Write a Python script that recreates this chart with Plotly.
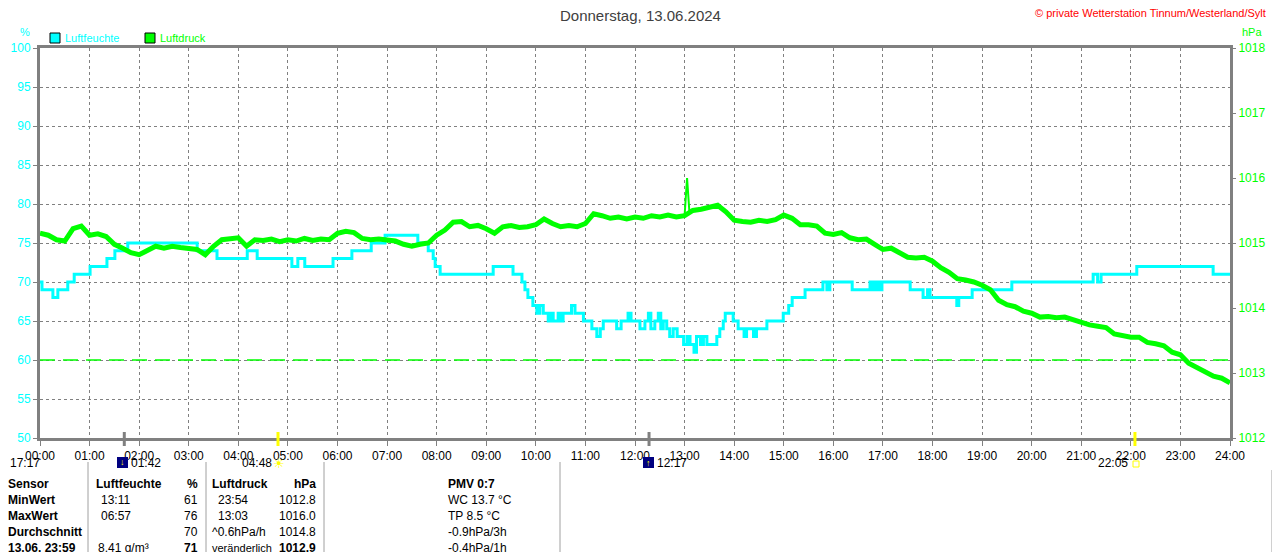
import plotly.graph_objects as go

# Luftfeuchte (%), stepwise readings: hour of day / value
hum_t = [0.00, 0.04, 0.26, 0.36, 0.56, 0.69, 1.01, 1.35, 1.51, 1.77,
         3.17, 3.57, 4.18, 4.38, 5.08, 5.20, 5.34, 5.91, 6.29, 6.68,
         6.96, 7.62, 7.83, 7.93, 7.97, 8.07, 9.14, 9.54, 9.72, 9.78,
         9.84, 9.94, 10.02, 10.08, 10.15, 10.25, 10.30, 10.35, 10.45, 10.50,
         10.55, 10.72, 10.79, 10.96, 11.13, 11.23, 11.30, 11.36, 11.63, 11.72,
         11.86, 11.92, 12.00, 12.10, 12.20, 12.27, 12.32, 12.40, 12.47, 12.52,
         12.57, 12.64, 12.70, 12.77, 12.85, 12.98, 13.05, 13.11, 13.19, 13.24,
         13.32, 13.38, 13.45, 13.65, 13.71, 13.78, 13.82, 13.98, 14.08, 14.20,
         14.25, 14.39, 14.45, 14.66, 14.99, 15.10, 15.17, 15.43, 15.79, 15.87,
         15.93, 16.38, 16.74, 16.80, 16.86, 16.92, 16.98, 17.55, 17.81, 17.90,
         17.95, 18.49, 18.53, 18.80, 19.60, 21.24, 21.33, 21.40, 21.48, 22.12,
         23.66, 24.00]
hum_v = [70, 69, 68, 69, 70, 71, 72, 73, 74, 75,
         74, 73, 74, 73, 72, 73, 72, 73, 74, 75,
         76, 75, 74, 73, 72, 71, 72, 71, 70, 69,
         68, 67, 66, 67, 66, 65, 66, 65, 66, 65,
         66, 67, 66, 65, 64, 63, 64, 65, 64, 65,
         66, 65, 65, 64, 65, 66, 64, 65, 66, 64,
         65, 64, 63, 64, 63, 62, 63, 62, 61, 63,
         62, 63, 62, 63, 64, 65, 66, 65, 64, 63,
         64, 63, 64, 65, 66, 67, 68, 69, 70, 69,
         70, 69, 70, 69, 70, 69, 70, 69, 68, 69,
         68, 67, 68, 69, 70, 71, 70, 71, 71, 72,
         71, 71]

# Luftdruck (hPa), every 10 minutes from 00:00 to 24:00
pres_v = [
    1015.15, 1015.12, 1015.05, 1015.03, 1015.22, 1015.26,
    1015.12, 1015.14, 1015.10, 1014.98, 1014.92, 1014.85,
    1014.82, 1014.88, 1014.95, 1014.92, 1014.95, 1014.93,
    1014.92, 1014.90, 1014.82, 1014.95, 1015.05, 1015.06,
    1015.08, 1014.95, 1015.05, 1015.04, 1015.06, 1015.02,
    1015.05, 1015.03, 1015.07, 1015.04, 1015.06, 1015.05,
    1015.15, 1015.18, 1015.16, 1015.07, 1015.05, 1015.06,
    1015.05, 1015.03, 1014.98, 1014.95, 1014.98, 1015.00,
    1015.12, 1015.20, 1015.32, 1015.33, 1015.25, 1015.27,
    1015.22, 1015.15, 1015.25, 1015.27, 1015.24, 1015.25,
    1015.28, 1015.37, 1015.30, 1015.25, 1015.27, 1015.25,
    1015.30, 1015.45, 1015.42, 1015.38, 1015.40, 1015.37,
    1015.40, 1015.38, 1015.42, 1015.40, 1015.43, 1015.40,
    1015.42, 1015.50, 1015.52, 1015.55, 1015.58, 1015.48,
    1015.35, 1015.33, 1015.32, 1015.35, 1015.33, 1015.36,
    1015.43, 1015.38, 1015.28, 1015.28, 1015.26, 1015.15,
    1015.13, 1015.16, 1015.08, 1015.05, 1015.06, 1014.98,
    1014.90, 1014.92, 1014.85, 1014.78, 1014.77, 1014.78,
    1014.72, 1014.62, 1014.55, 1014.45, 1014.43, 1014.40,
    1014.35, 1014.28, 1014.12, 1014.05, 1014.02, 1013.95,
    1013.92, 1013.86, 1013.87, 1013.85, 1013.86, 1013.82,
    1013.77, 1013.74, 1013.72, 1013.70, 1013.60, 1013.57,
    1013.55, 1013.55, 1013.47, 1013.45, 1013.42, 1013.32,
    1013.28, 1013.15, 1013.08, 1013.02, 1012.95, 1012.92,
    1012.85,
]
pres_t = [i / 6 for i in range(len(pres_v))]

# short peak at 13:03
spike_t = [13.0, 13.05, 13.1]
spike_v = [1015.42, 1016.0, 1015.45]

ref_pres = 1013.2  # dashed reference line

hours = list(range(25))
hour_labels = ['%02d:00' % h for h in hours]

# moon / sun events below the axis
event_t = [1.70, 4.80, 12.283, 22.083]
event_col = ['#808080', '#ffff00', '#808080', '#ffff00']

# table at the bottom
tbl_label = ['Sensor', 'MinWert', 'MaxWert', 'Durchschnitt', '13.06. 23:59']
tbl_hum_a = ['Luftfeuchte', '13:11', '06:57', '', '8.41 g/m³']
tbl_hum_b = ['%', '61', '76', '70', '71']
tbl_pres_a = ['Luftdruck', '23:54', '13:03', '^0.6hPa/h', 'veränderlich']
tbl_pres_b = ['hPa', '1012.8', '1016.0', '1014.8', '1012.9']
tbl_pmv = ['PMV 0:7', 'WC 13.7 °C', 'TP 8.5 °C', '-0.9hPa/3h', '-0.4hPa/1h']

CYAN = '#00ffff'
GREEN = '#00ff00'
GRAY = '#808080'
FONT = 'Liberation Sans'


def px(x):
    return (x - 40) / 1190


def py(y):
    return (438 - y) / 390


fig = go.Figure()

fig.add_trace(go.Scatter(
    x=hum_t, y=hum_v, name='Luftfeuchte', mode='lines',
    line=dict(color=CYAN, width=3, shape='hv'),
))
fig.add_trace(go.Scatter(
    x=pres_t, y=pres_v, name='Luftdruck', mode='lines', yaxis='y2',
    line=dict(color=GREEN, width=5),
))
fig.add_trace(go.Scatter(
    x=spike_t, y=spike_v, mode='lines', yaxis='y2', showlegend=False,
    line=dict(color=GREEN, width=2),
))

shapes = []
# reference pressure line
shapes.append(dict(type='line', xref='x', yref='y2', x0=0, x1=24, y0=ref_pres, y1=ref_pres,
                   line=dict(color=GREEN, width=1.5, dash='15px,8px')))
# event markers on the time axis
for t, c in zip(event_t, event_col):
    shapes.append(dict(type='line', xref='x', yref='paper', x0=t, x1=t, y0=py(432), y1=py(446),
                       line=dict(color=c, width=3)))
# legend boxes
shapes.append(dict(type='rect', xref='paper', yref='paper', x0=px(50), x1=px(60), y0=py(43), y1=py(33),
                   fillcolor=CYAN, line=dict(color='black', width=1)))
shapes.append(dict(type='rect', xref='paper', yref='paper', x0=px(145), x1=px(155), y0=py(43), y1=py(33),
                   fillcolor=GREEN, line=dict(color='black', width=1)))
# table separators
for sx in [88, 206, 324, 560]:
    shapes.append(dict(type='line', xref='paper', yref='paper', x0=px(sx), x1=px(sx), y0=py(462), y1=py(556),
                       line=dict(color='#a0a0a0', width=1)))
# moon icons
for mx in [117, 643]:
    shapes.append(dict(type='rect', xref='paper', yref='paper', x0=px(mx), x1=px(mx + 11), y0=py(468), y1=py(457),
                       fillcolor='#000080', line=dict(width=0)))
# setting sun at 17:17 (half disc)
shapes.append(dict(type='path', xref='paper', yref='paper',
                   path='M %f %f A 1 1 0 0 1 %f %f Z' % (px(40), py(466), px(50), py(466)),
                   fillcolor='#ffff00', line=dict(color='#ffff00', width=1)))
shapes.append(dict(type='rect', xref='paper', yref='paper', x0=px(1133), x1=px(1139), y0=py(467), y1=py(461),
                   line=dict(color='#ffff00', width=1)))
# cut-off neighbour chart at the right edge
shapes.append(dict(type='line', xref='paper', yref='paper', x0=px(1272), x1=px(1281), y0=py(48), y1=py(48),
                   line=dict(color=GRAY, width=3)))
for gy in [125, 200, 277, 352, 418]:
    shapes.append(dict(type='line', xref='paper', yref='paper', x0=px(1272), x1=px(1281), y0=py(gy), y1=py(gy),
                       line=dict(color=GRAY, width=1, dash='3px,3px')))
shapes.append(dict(type='rect', xref='paper', yref='paper', x0=px(1272), x1=px(1281), y0=py(417), y1=py(402),
                   fillcolor=GREEN, line=dict(width=0)))
shapes.append(dict(type='line', xref='paper', yref='paper', x0=px(1272), x1=px(1272), y0=py(470), y1=py(556),
                   line=dict(color='#a0a0a0', width=1)))
shapes.append(dict(type='line', xref='paper', yref='paper', x0=px(1272), x1=px(1281), y0=py(503), y1=py(503),
                   line=dict(color=CYAN, width=3)))

ann = []


def text(x, y, s, color='black', size=12, anchor='left', bold=False):
    if bold:
        s = '<b>%s</b>' % s
    ann.append(dict(xref='paper', yref='paper', x=px(x), y=py(y), text=s, showarrow=False,
                    xanchor=anchor, yanchor='middle', font=dict(family=FONT, size=size, color=color)))


text(640, 15, 'Donnerstag, 13.06.2024', color='#404040', size=15, anchor='center')
text(1268, 13, '© private Wetterstation Tinnum/Westerland/Sylt', color='#ff0000', size=11, anchor='right')
text(25, 32, '%', color=CYAN, size=11, anchor='center')
text(1240, 32, 'hPa', color=GREEN, size=11)
text(63, 38, 'Luftfeuchte', color=CYAN, size=11)
text(158, 38, 'Luftdruck', color=GREEN, size=11)

# event times
text(8, 463, '17:17')
text(129, 463, '01:42')
text(274, 463, '04:48', anchor='right')
text(655, 463, '12:17')
text(1130, 463, '22:05', anchor='right')
text(122, 462, '↓', color='#ffff00', size=9, anchor='center', bold=True)
text(648, 463, '↑', color='#ffff00', size=9, anchor='center', bold=True)
text(279, 463, '☀', color='#ffff00', size=13, anchor='center')

rows_y = [484, 500, 516, 532, 548]
hum_a_x = [94, 99, 99, 99, 96]
pres_a_x = [210, 216, 216, 210, 210]
for i, ry in enumerate(rows_y):
    head = i == 0
    last = i == len(rows_y) - 1
    text(6, ry, tbl_label[i], bold=True)
    text(hum_a_x[i], ry, tbl_hum_a[i], bold=head)
    text(200, ry, tbl_hum_b[i], anchor='right', bold=head or last)
    text(pres_a_x[i], ry, tbl_pres_a[i], bold=head, size=11 if last else 12)
    text(318, ry, tbl_pres_b[i], anchor='right', bold=head or last)
    text(446, ry, tbl_pmv[i], bold=head)

# the page body has an 8px margin, so the figure is placed at (8, 8)
fig.update_layout(
    width=1272, height=544, autosize=False,
    margin=dict(l=32, r=50, t=40, b=114, autoexpand=False),
    paper_bgcolor='white', plot_bgcolor='white',
    showlegend=False,
    font=dict(family=FONT, size=12, color='black'),
    shapes=shapes,
    annotations=ann,
    xaxis=dict(
        range=[0, 24], tickvals=hours, ticktext=hour_labels, automargin=False,
        ticks='outside', ticklen=5, tickcolor=GRAY, tickfont=dict(size=12, color='black'),
        showgrid=True, gridcolor=GRAY, griddash='3px,3px', gridwidth=1,
        showline=True, linecolor=GRAY, linewidth=3, mirror=True, zeroline=False,
    ),
    yaxis=dict(
        range=[50, 100], dtick=5, ticks='outside', ticklen=4, tickcolor=GRAY, automargin=False,
        tickfont=dict(size=12, color=CYAN),
        showgrid=True, gridcolor=GRAY, griddash='3px,3px', gridwidth=1,
        showline=True, linecolor=GRAY, linewidth=3, mirror=True, zeroline=False,
    ),
    yaxis2=dict(
        range=[1012, 1018], dtick=1, overlaying='y', side='right', automargin=False,
        ticks='outside', ticklen=5, tickcolor=GRAY, tickfont=dict(size=12, color=GREEN),
        showgrid=False, showline=False, zeroline=False,
    ),
)

fig.write_html("out.html")
